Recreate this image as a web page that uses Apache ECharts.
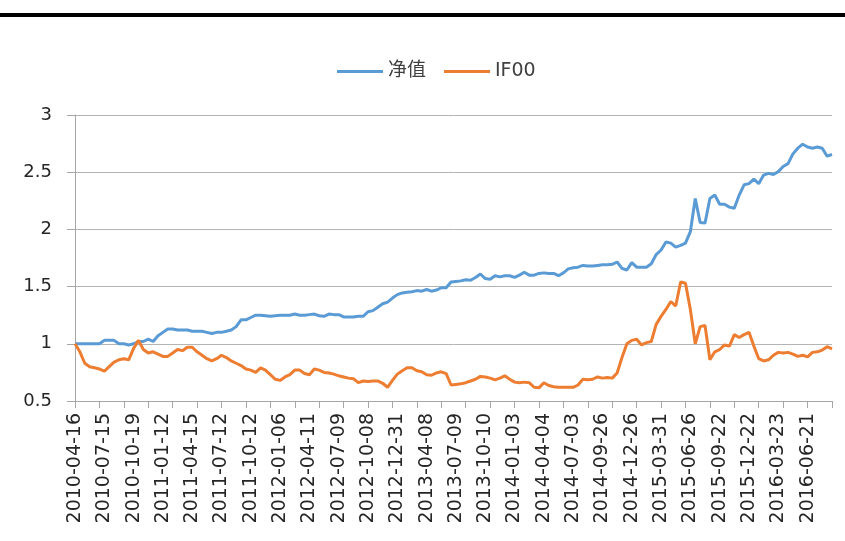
<!DOCTYPE html>
<html>
<head>
<meta charset="utf-8">
<script src="https://cdn.jsdelivr.net/npm/echarts@6/dist/echarts.min.js"></script>
<style>
  html, body { margin: 0; padding: 0; background: #fff; }
  #main { width: 845px; height: 541px; }
</style>
</head>
<body>
<div id="main"></div>
<script>
// 横轴标签（每6个点一个）
var tickLabels = ['2010-04-16', '2010-07-15', '2010-10-19', '2011-01-12', '2011-04-15', '2011-07-12',
  '2011-10-12', '2012-01-06', '2012-04-11', '2012-07-09', '2012-10-08', '2012-12-31',
  '2013-04-08', '2013-07-09', '2013-10-10', '2014-01-03', '2014-04-04', '2014-07-03',
  '2014-09-26', '2014-12-26', '2015-03-31', '2015-06-26', '2015-09-22', '2015-12-22',
  '2016-03-23', '2016-06-21'];

// 净值
var nav = [1.00, 1.00, 1.00, 1.00, 1.00, 1.00, 1.03, 1.03, 1.03, 1.00,
  1.00, 0.99, 1.00, 1.02, 1.02, 1.04, 1.02, 1.07, 1.10, 1.13,
  1.13, 1.12, 1.12, 1.12, 1.11, 1.11, 1.11, 1.10, 1.09, 1.10,
  1.10, 1.11, 1.12, 1.15, 1.21, 1.21, 1.23, 1.25, 1.25, 1.245,
  1.24, 1.245, 1.25, 1.25, 1.25, 1.26, 1.25, 1.25, 1.255, 1.26,
  1.245, 1.24, 1.26, 1.255, 1.255, 1.235, 1.235, 1.235, 1.24, 1.24,
  1.28, 1.29, 1.32, 1.35, 1.365, 1.40, 1.43, 1.445, 1.45, 1.455,
  1.465, 1.46, 1.475, 1.46, 1.47, 1.49, 1.49, 1.54, 1.545, 1.55,
  1.56, 1.555, 1.58, 1.61, 1.57, 1.565, 1.595, 1.585, 1.595, 1.595,
  1.58, 1.60, 1.625, 1.60, 1.60, 1.615, 1.62, 1.615, 1.615, 1.595,
  1.62, 1.655, 1.665, 1.67, 1.685, 1.68, 1.68, 1.685, 1.69, 1.69,
  1.695, 1.715, 1.66, 1.645, 1.71, 1.67, 1.67, 1.67, 1.70, 1.78,
  1.82, 1.89, 1.88, 1.845, 1.86, 1.88, 1.98, 2.27, 2.06, 2.055,
  2.27, 2.30, 2.22, 2.22, 2.195, 2.185, 2.30, 2.39, 2.40, 2.44,
  2.40, 2.475, 2.49, 2.48, 2.505, 2.55, 2.575, 2.66, 2.71, 2.745,
  2.72, 2.71, 2.72, 2.71, 2.64, 2.655];

// IF00
var if00 = [1.00, 0.93, 0.83, 0.80, 0.79, 0.78, 0.76, 0.80, 0.84, 0.86,
  0.87, 0.86, 0.96, 1.03, 0.95, 0.92, 0.93, 0.91, 0.89, 0.89,
  0.92, 0.95, 0.94, 0.97, 0.97, 0.93, 0.90, 0.87, 0.85, 0.87,
  0.90, 0.88, 0.85, 0.83, 0.81, 0.78, 0.77, 0.75, 0.79, 0.77,
  0.73, 0.69, 0.68, 0.71, 0.73, 0.77, 0.77, 0.74, 0.73, 0.78,
  0.77, 0.75, 0.745, 0.735, 0.72, 0.71, 0.70, 0.695, 0.66, 0.675,
  0.67, 0.675, 0.675, 0.655, 0.62, 0.68, 0.735, 0.765, 0.79, 0.79,
  0.765, 0.755, 0.73, 0.725, 0.745, 0.755, 0.74, 0.64, 0.645, 0.65,
  0.66, 0.675, 0.69, 0.715, 0.71, 0.70, 0.685, 0.70, 0.72, 0.69,
  0.665, 0.66, 0.665, 0.66, 0.62, 0.615, 0.66, 0.635, 0.625, 0.62,
  0.62, 0.62, 0.62, 0.64, 0.69, 0.685, 0.69, 0.71, 0.70, 0.705,
  0.70, 0.745, 0.88, 1.00, 1.03, 1.04, 0.99, 1.01, 1.02, 1.17,
  1.24, 1.30, 1.37, 1.33, 1.54, 1.53, 1.30, 1.00, 1.15, 1.16,
  0.86, 0.93, 0.95, 0.99, 0.98, 1.08, 1.055, 1.08, 1.10, 0.98,
  0.87, 0.85, 0.86, 0.90, 0.925, 0.92, 0.925, 0.91, 0.89, 0.90,
  0.885, 0.925, 0.93, 0.945, 0.975, 0.955];

// 类目轴：每个点一个序号
var xCats = nav.map(function (v, i) { return String(i); });

var chart = echarts.init(document.getElementById('main'));
var font = "'DejaVu Sans', 'Noto Sans CJK SC', sans-serif";

chart.setOption({
  animation: false,
  textStyle: { fontFamily: font },
  graphic: [{
    //顶部黑条
    type: 'rect',
    shape: { x: 0, y: 13, width: 845, height: 4 },
    style: { fill: '#000' }
  }],
  legend: {
    left: 332,
    top: 57,
    itemWidth: 46,
    itemHeight: 3,
    itemGap: 18,
    icon: 'rect',
    textStyle: { fontSize: 19, color: '#404040', fontFamily: font },
    data: ['净值', 'IF00']
  },
  grid: { left: 75, right: 13, top: 115, bottom: 140 },
  xAxis: {
    type: 'category',
    boundaryGap: false,
    data: xCats,
    axisLine: { lineStyle: { color: '#a6a6a6', width: 1 } },
    axisTick: { show: true, interval: 4, length: 7, lineStyle: { color: '#a6a6a6' } },
    axisLabel: {
      interval: 5,
      rotate: 90,
      margin: 12,
      fontSize: 19,
      color: '#262626',
      fontFamily: font,
      formatter: function (v) {
        var k = Number(v) / 6;
        return tickLabels[k] || '';
      }
    }
  },
  yAxis: {
    type: 'value',
    min: 0.5,
    max: 3,
    interval: 0.5,
    axisLine: { show: true, lineStyle: { color: '#a6a6a6' } },
    axisTick: { show: true, length: 8, lineStyle: { color: '#a6a6a6' } },
    axisLabel: { fontSize: 18, color: '#262626', margin: 23, fontFamily: font },
    splitLine: { lineStyle: { color: '#b4b4b4', width: 1 } }
  },
  series: [
    {
      name: '净值',
      type: 'line',
      data: nav,
      symbol: 'none',
      color: '#5b9bd5',
      lineStyle: { width: 3, color: '#5b9bd5' }
    },
    {
      name: 'IF00',
      type: 'line',
      data: if00,
      symbol: 'none',
      color: '#ed7d31',
      lineStyle: { width: 3, color: '#ed7d31' }
    }
  ]
});
</script>
</body>
</html>
